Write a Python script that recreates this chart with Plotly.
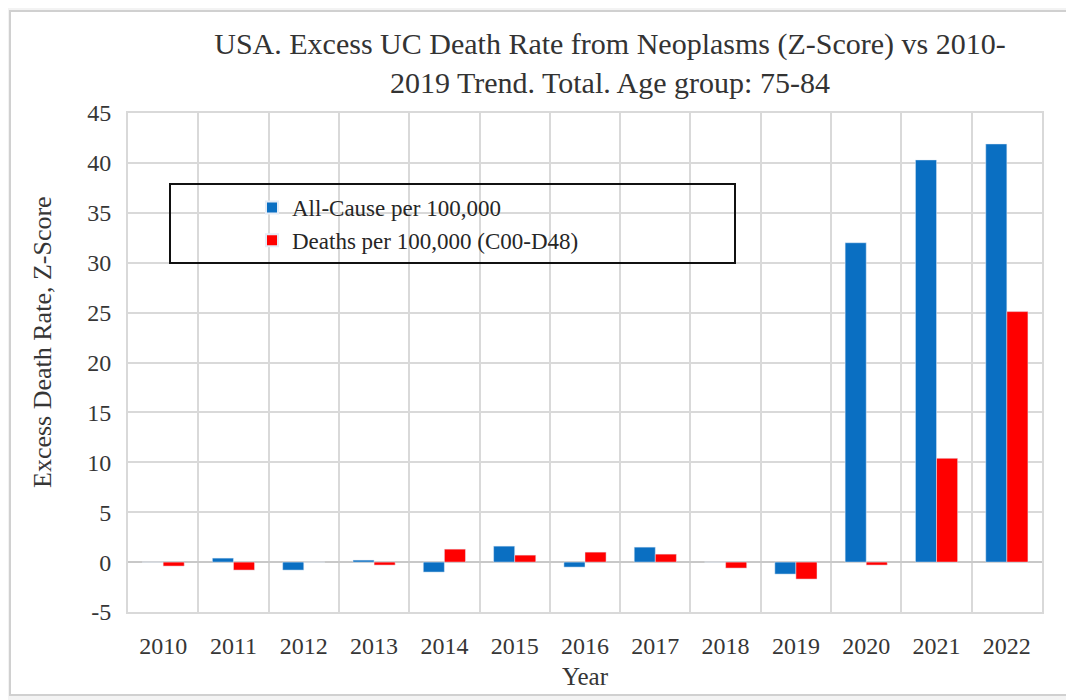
import plotly.graph_objects as go

years = ["2010", "2011", "2012", "2013", "2014", "2015", "2016", "2017", "2018", "2019", "2020", "2021", "2022"]
all_cause = [0.0, 0.4, -0.8, 0.2, -1.0, 1.6, -0.5, 1.5, 0.0, -1.2, 32.0, 40.3, 41.9]
neoplasms = [-0.4, -0.8, 0.0, -0.3, 1.3, 0.7, 1.0, 0.8, -0.6, -1.7, -0.3, 10.4, 25.1]
y_ticks = [-5, 0, 5, 10, 15, 20, 25, 30, 35, 40, 45]
y_tick_labels = ["-5", "0", "5", "10", "15", "20", "25", "30", "35", "40", "45"]

title_text = "USA. Excess UC Death Rate from Neoplasms (Z-Score) vs 2010-<br>2019 Trend. Total. Age group: 75-84"
y_title = "Excess Death Rate, Z-Score"
serif = "Liberation Serif, DejaVu Serif, serif"
txt = "#363636"
grid = "#d9d9d9"

fig = go.Figure()
fig.add_trace(go.Bar(x=years, y=all_cause, name="All-Cause per 100,000", marker_color="#0a6fc2"))
fig.add_trace(go.Bar(x=years, y=neoplasms, name="Deaths per 100,000 (C00-D48)", marker_color="#ff0000"))

W, H = 1066, 692
L, R, T, B = 120, 32, 105, 88
pw, ph = W - L - R, H - T - B

def px(x):
    return (x - L) / pw

def py(y):
    return (H - B - y) / ph

fig.update_layout(
    width=W, height=H,
    margin=dict(l=L, r=R, t=T, b=B, autoexpand=False),
    paper_bgcolor="#f3f3f3",
    plot_bgcolor="rgba(0,0,0,0)",
    barmode="group", bargap=0.4, bargroupgap=0.0,
    font=dict(family=serif, color=txt, size=22),
    title=dict(text=title_text, x=602 / W, xref="container", xanchor="center",
               y=1 - 46 / H, yref="container", yanchor="top",
               font=dict(family=serif, size=30, color="#333333")),
    legend=dict(x=px(244), y=py(178), xanchor="left", yanchor="top",
                bgcolor="rgba(0,0,0,0)", font=dict(family=serif, size=23, color="#262626"),
                itemsizing="constant", tracegroupgap=0),
    shapes=[
        dict(type="rect", xref="paper", yref="paper", x0=px(2), x1=px(1090), y0=py(687), y1=py(3),
             fillcolor="white", line=dict(color="#d0d0d0", width=2), layer="below"),
        dict(type="rect", xref="paper", yref="paper", x0=px(162), x1=px(727), y0=py(255), y1=py(176),
             fillcolor="rgba(0,0,0,0)", line=dict(color="#111111", width=2)),
    ],
    annotations=[
        dict(text=y_title, xref="paper", yref="paper", x=px(34), y=py(334),
             xanchor="center", yanchor="middle", textangle=-90, showarrow=False,
             font=dict(family=serif, size=26, color=txt)),
    ],
)

fig.update_xaxes(
    type="category", tickson="boundaries", showgrid=True, gridcolor=grid, gridwidth=2,
    showline=True, linecolor=grid, linewidth=2, mirror=True, ticks="", ticklabelstandoff=11,
    tickfont=dict(family=serif, size=24, color=txt),
    title=dict(text="Year", standoff=10, font=dict(family=serif, size=25, color=txt)),
)
fig.update_yaxes(
    range=[-5, 45], tickvals=y_ticks, ticktext=y_tick_labels,
    showgrid=True, gridcolor=grid, gridwidth=2,
    zeroline=True, zerolinecolor="#c8c8c8", zerolinewidth=2,
    showline=True, linecolor=grid, linewidth=2, mirror=True, ticks="", ticklabelstandoff=10,
    tickfont=dict(family=serif, size=24, color=txt),
)

fig.write_html("out.html")
